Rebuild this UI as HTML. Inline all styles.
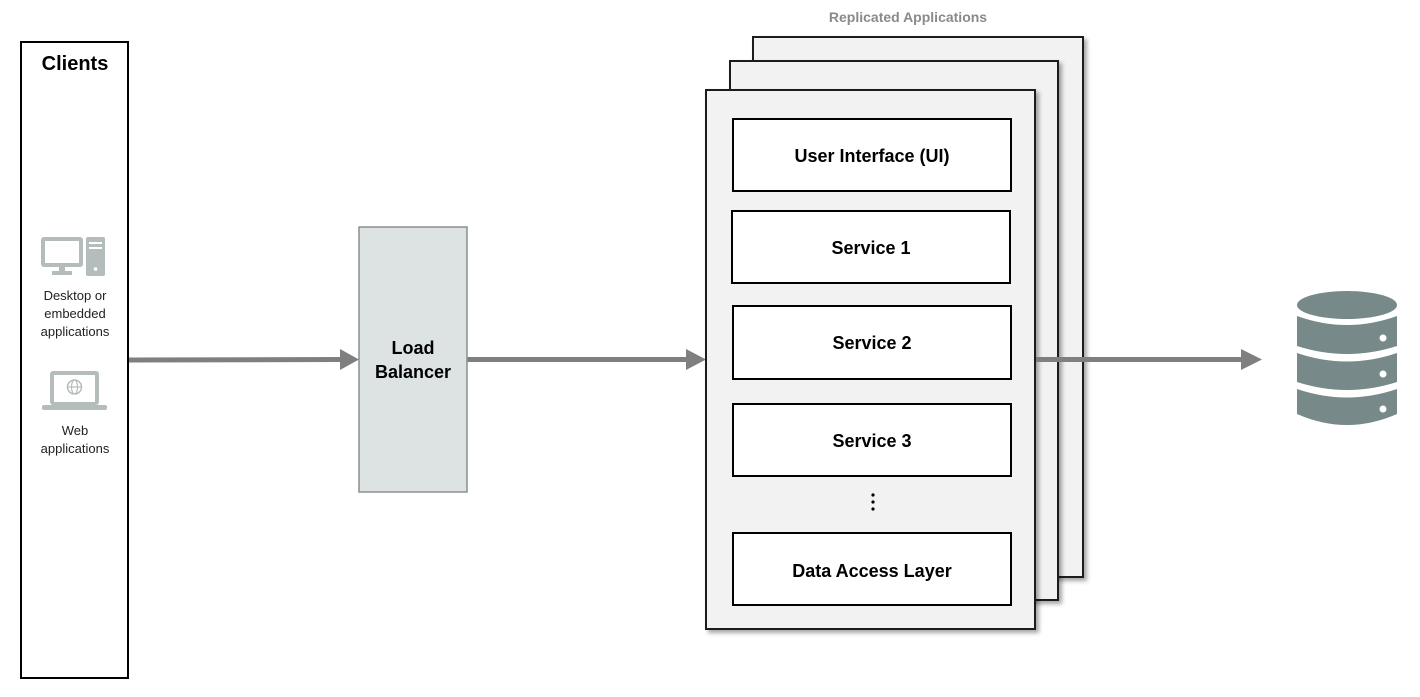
<!DOCTYPE html>
<html><head><meta charset="utf-8"><style>
html,body{margin:0;padding:0;background:#fff;}
svg{display:block;font-family:"Liberation Sans",Calibri,sans-serif;}
</style></head><body>
<svg width="1420" height="697" viewBox="0 0 1420 697" xmlns="http://www.w3.org/2000/svg">
<defs>
<filter id="sh" x="-5%" y="-5%" width="115%" height="115%"><feDropShadow dx="3" dy="3" stdDeviation="2" flood-color="#000" flood-opacity="0.35"/></filter>
</defs>
<rect x="21" y="42" width="107" height="636" fill="#fff" stroke="#000" stroke-width="2"/>
<text x="75" y="70" text-anchor="middle" font-size="20" font-weight="bold">Clients</text>
<rect x="41" y="237" width="42" height="30" rx="3" fill="#b5bcbc"/>
<rect x="45" y="241" width="34" height="22" fill="#fff"/>
<rect x="59" y="267" width="6" height="5" fill="#b5bcbc"/>
<rect x="52" y="271" width="20" height="4" fill="#b5bcbc"/>
<rect x="86" y="237" width="19" height="39" rx="2" fill="#b5bcbc"/>
<rect x="89" y="242" width="13" height="2" fill="#fff"/>
<rect x="89" y="247" width="13" height="2" fill="#fff"/>
<circle cx="95.5" cy="269" r="1.8" fill="#fff"/>
<text font-size="13" fill="#222" text-anchor="middle"><tspan x="75" y="300">Desktop or</tspan><tspan x="75" y="318">embedded</tspan><tspan x="75" y="336">applications</tspan></text>
<rect x="50" y="371" width="49" height="34" rx="3" fill="#b5bcbc"/>
<rect x="54" y="375" width="41" height="27" fill="#fff"/>
<rect x="42" y="405" width="65" height="5" rx="2" fill="#b5bcbc"/>
<circle cx="74.5" cy="387" r="7" fill="none" stroke="#b5bcbc" stroke-width="1.5"/>
<ellipse cx="74.5" cy="387" rx="3" ry="7" fill="none" stroke="#b5bcbc" stroke-width="1.2"/>
<line x1="67.5" y1="387" x2="81.5" y2="387" stroke="#b5bcbc" stroke-width="1.2"/>
<text font-size="13" fill="#222" text-anchor="middle"><tspan x="75" y="435">Web</tspan><tspan x="75" y="453">applications</tspan></text>
<g fill="#7f7f7f" stroke="#7f7f7f">
<line x1="129" y1="360" x2="342" y2="359.5" stroke-width="5"/>
<polygon points="340,349 359,359.5 340,370" stroke="none"/>
<line x1="467" y1="359.5" x2="688" y2="359.5" stroke-width="5"/>
<polygon points="686,349 706,359.5 686,370" stroke="none"/>
</g>
<rect x="359" y="227" width="108" height="265" fill="#dde3e3" stroke="#8a8f8f" stroke-width="1.5"/>
<text font-size="18" font-weight="bold" text-anchor="middle"><tspan x="413" y="354">Load</tspan><tspan x="413" y="378">Balancer</tspan></text>
<text x="908" y="22" text-anchor="middle" font-size="14" font-weight="bold" fill="#8a8a8a">Replicated Applications</text>
<rect x="753" y="37" width="330" height="540" fill="#f2f2f2" stroke="#1a1a1a" stroke-width="2" filter="url(#sh)"/>
<rect x="730" y="61" width="328" height="539" fill="#f2f2f2" stroke="#1a1a1a" stroke-width="2" filter="url(#sh)"/>
<rect x="706" y="90" width="329" height="539" fill="#f2f2f2" stroke="#1a1a1a" stroke-width="2" filter="url(#sh)"/>
<g fill="#fff" stroke="#000" stroke-width="2">
<rect x="733" y="119" width="278" height="72"/>
<rect x="732" y="211" width="278" height="72"/>
<rect x="733" y="306" width="278" height="73"/>
<rect x="733" y="404" width="278" height="72"/>
<rect x="733" y="533" width="278" height="72"/>
</g>
<g font-size="18" font-weight="bold" text-anchor="middle">
<text x="872" y="162">User Interface (UI)</text>
<text x="871" y="254">Service 1</text>
<text x="872" y="349">Service 2</text>
<text x="872" y="447">Service 3</text>
<text x="872" y="577">Data Access Layer</text>
</g>
<g fill="#000"><circle cx="873" cy="495" r="1.6"/><circle cx="873" cy="502" r="1.6"/><circle cx="873" cy="509" r="1.6"/></g>
<g fill="#7f7f7f" stroke="#7f7f7f">
<line x1="1036" y1="359.5" x2="1244" y2="359.5" stroke-width="5"/>
<polygon points="1241,349 1262,359.5 1241,370" stroke="none"/>
</g>
<g fill="#78898a">
<ellipse cx="1347" cy="305" rx="50" ry="14"/>
<path d="M1297,316 Q1347,334 1397,316 L1397,346 Q1347,362 1297,346 Z"/>
<path d="M1297,353 Q1347,370 1397,353 L1397,382 Q1347,398 1297,382 Z"/>
<path d="M1297,389 Q1347,406 1397,389 L1397,414 Q1347,436 1297,414 Z"/>
</g>
<g fill="#fff"><circle cx="1383" cy="338" r="3.5"/><circle cx="1383" cy="374" r="3.5"/><circle cx="1383" cy="409" r="3.5"/></g>
</svg>
</body></html>
